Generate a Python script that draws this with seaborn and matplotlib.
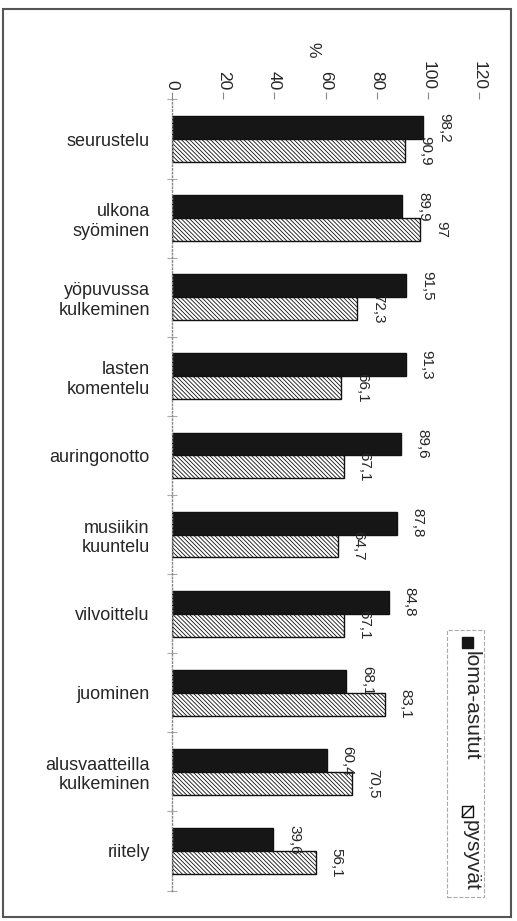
import matplotlib.pyplot as plt
import seaborn as sns
import pandas as pd
from matplotlib.patches import Rectangle
from matplotlib.lines import Line2D

# arvot luettu kuvasta (%)
kategoriat = ['seurustelu', 'ulkona\nsyöminen', 'yöpuvussa\nkulkeminen', 'lasten\nkomentelu',
              'auringonotto', 'musiikin\nkuuntelu', 'vilvoittelu', 'juominen',
              'alusvaatteilla\nkulkeminen', 'riitely']
loma_asutut = [98.2, 89.9, 91.5, 91.3, 89.6, 87.8, 84.8, 68.1, 60.4, 39.6]
pysyvat = [90.9, 97, 72.3, 66.1, 67.1, 64.7, 67.1, 83.1, 70.5, 56.1]
ryhmat = ['loma-asutut', 'pysyvät']
x_ticks = [0, 20, 40, 60, 80, 100, 120]

df = pd.DataFrame({
    'toiminta': kategoriat * 2,
    'osuus': loma_asutut + pysyvat,
    'ryhmä': [ryhmat[0]] * len(kategoriat) + [ryhmat[1]] * len(kategoriat),
})

sns.set_style('white')
plt.rcParams['font.family'] = ['Liberation Sans', 'DejaVu Sans']
plt.rcParams['hatch.color'] = '#444444'
plt.rcParams['hatch.linewidth'] = 0.6

W, H = 517, 921
fig = plt.figure(figsize=(W / 100, H / 100), dpi=100)
ax = fig.add_axes([172 / W, 1 - 890.5 / H, (479 - 172) / W, 791 / H])

sns.barplot(data=df, x='osuus', y='toiminta', hue='ryhmä', orient='h',
            palette=['#161616', 'white'], width=0.58, saturation=1,
            edgecolor='#111111', linewidth=1, errorbar=None, legend=False, ax=ax)

for bar in ax.containers[1]:
    bar.set_hatch('\\' * 8)

# arvot palkkien päähän, kierrettynä kuten alkuperäisessä
for cont, vals in zip(ax.containers, [loma_asutut, pysyvat]):
    ax.bar_label(cont, labels=[f'{v:g}'.replace('.', ',') for v in vals],
                 rotation=-90, padding=10, fontsize=11)

ax.set_xlim(0, 120)
ax.set_ylim(9.5, -0.5)
ax.set_xlabel('')
ax.set_ylabel('')

ax.xaxis.tick_top()
ax.set_xticks(x_ticks)
ax.set_xticklabels([str(t) for t in x_ticks], rotation=-90, va='bottom', ha='center')
ax.tick_params(axis='x', top=True, bottom=False, direction='out', length=5,
               color='#888888', width=0.8, labelsize=12.5, pad=2)

ax.tick_params(axis='y', which='major', length=0, pad=16, labelsize=13)
ax.set_yticks([i + 0.5 for i in range(-1, len(kategoriat))], minor=True)
ax.tick_params(axis='y', which='minor', left=True, direction='inout', length=7,
               color='#aaaaaa', width=0.8)

for s in ['top', 'right', 'bottom']:
    ax.spines[s].set_visible(False)
ax.spines['left'].set_linestyle(':')
ax.spines['left'].set_color('#888888')
ax.spines['left'].set_linewidth(1)

fig.text(313 / W, 1 - 50 / H, '%', rotation=-90, ha='center', va='center', fontsize=12.5)

# selite käsin, kierrettynä
fig.add_artist(Rectangle((447 / W, 1 - 897 / H), 37 / W, 267 / H, transform=fig.transFigure,
                         fill=False, edgecolor='#aaaaaa', linestyle='--', linewidth=0.8))
fig.add_artist(Rectangle((462 / W, 1 - 648 / H), 11 / W, 11 / H, transform=fig.transFigure,
                         facecolor='#161616', edgecolor='#161616'))
fig.text(471 / W, 1 - 651 / H, ryhmat[0], rotation=-90, ha='center', va='top', fontsize=15)
fig.add_artist(Rectangle((462 / W, 1 - 817 / H), 11 / W, 11 / H, transform=fig.transFigure,
                         facecolor='white', edgecolor='#111111', linewidth=1))
fig.add_artist(Line2D([462 / W, 473 / W], [1 - 817 / H, 1 - 806 / H], transform=fig.transFigure,
                      color='#111111', linewidth=1))
fig.text(471 / W, 1 - 820 / H, ryhmat[1], rotation=-90, ha='center', va='top', fontsize=15)

# kuvan kehys
fig.add_artist(Rectangle((3 / W, 1 - 917 / H), 508 / W, 908 / H, transform=fig.transFigure,
                         fill=False, edgecolor='#555555', linewidth=1.5))

fig.savefig('out.png', dpi=100)
